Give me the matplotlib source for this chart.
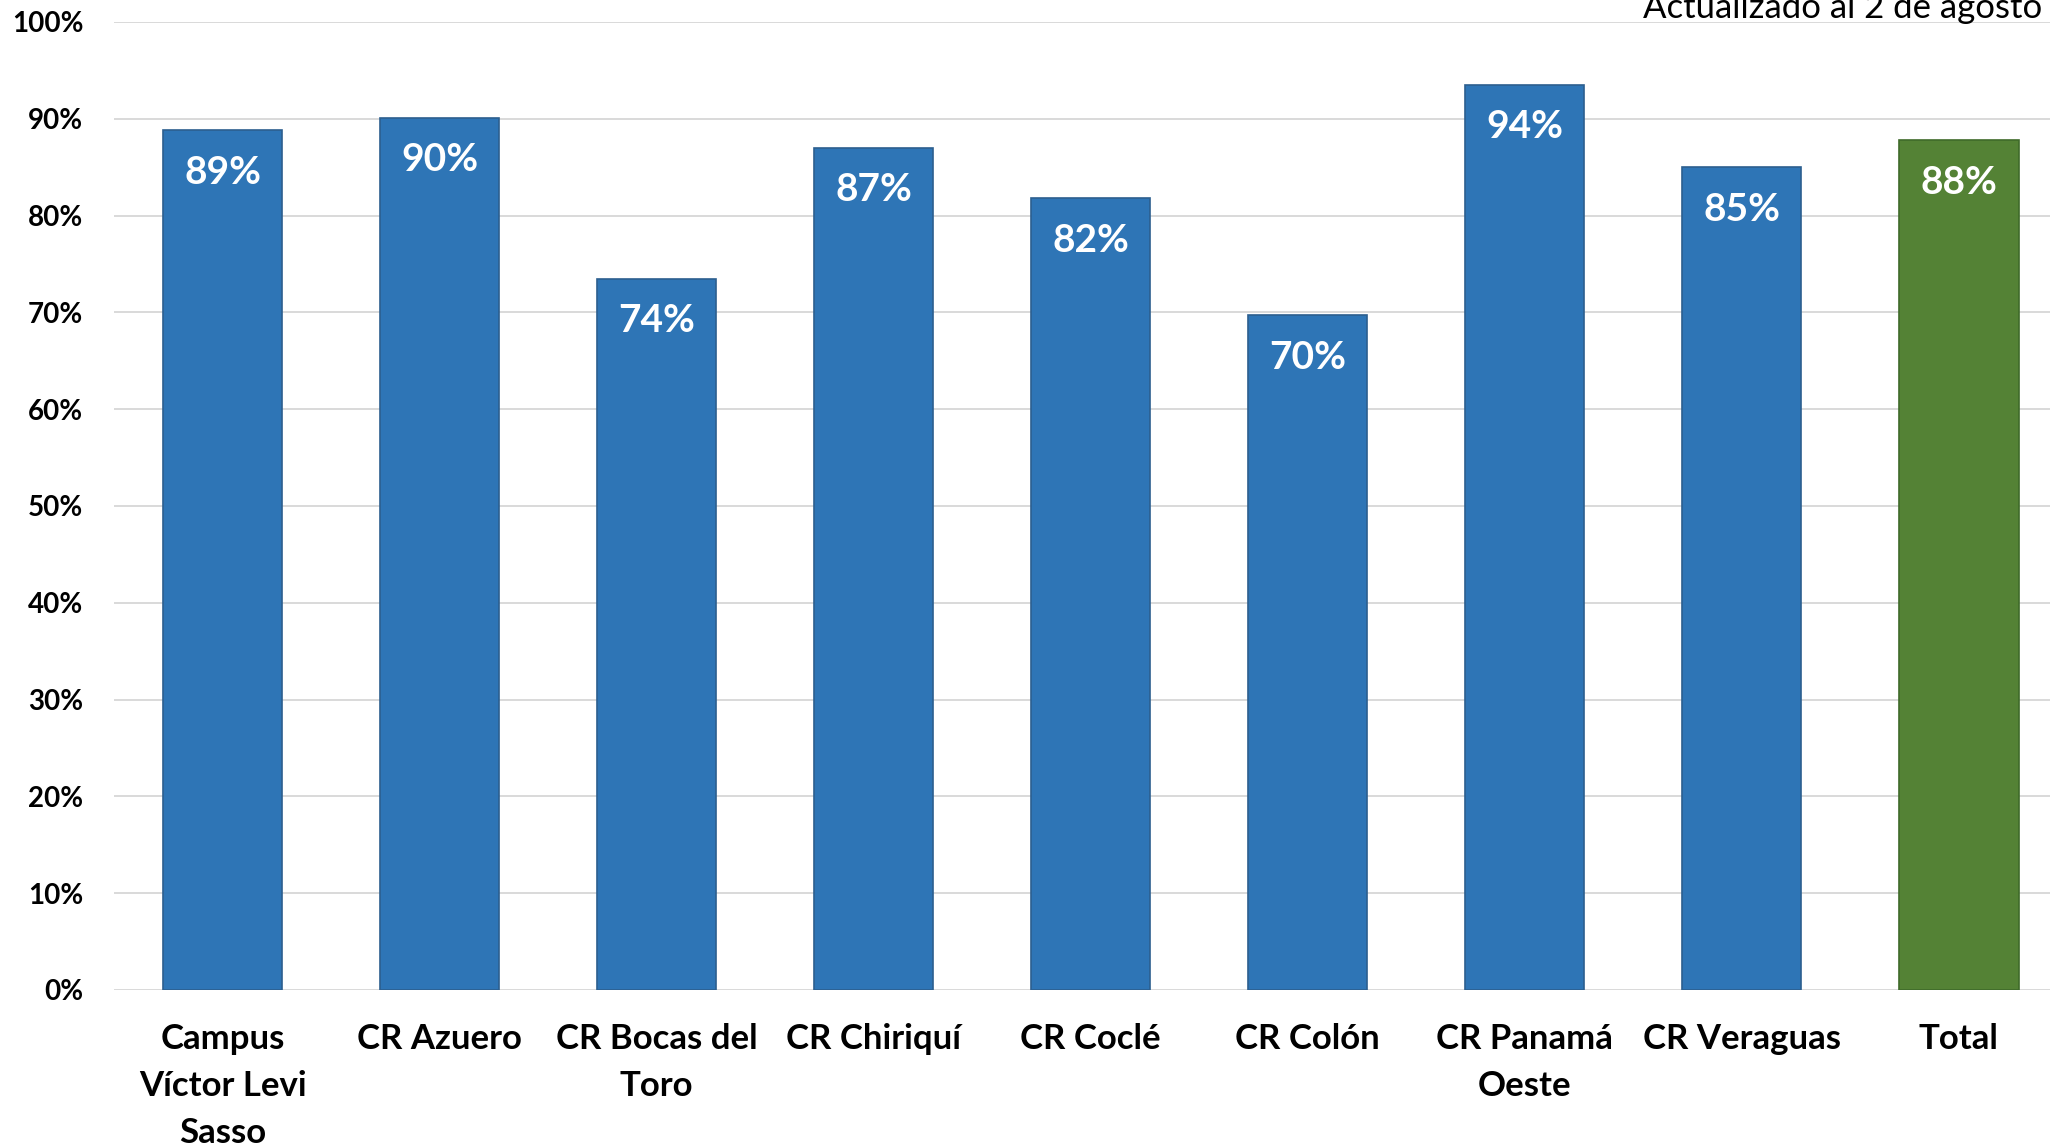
import matplotlib.pyplot as plt
from matplotlib.ticker import FuncFormatter

# datos
categorias = ["Campus\nVíctor Levi\nSasso", "CR Azuero", "CR Bocas del\nToro", "CR Chiriquí",
              "CR Coclé", "CR Colón", "CR Panamá\nOeste", "CR Veraguas", "Total"]
valores = [88.8, 90.1, 73.5, 87.0, 81.8, 69.7, 93.5, 85.0, 87.8]
etiquetas = ["89%", "90%", "74%", "87%", "82%", "70%", "94%", "85%", "88%"]
titulo = "Actualizado al 2 de agosto"

azul = "#2E75B6"
verde = "#548235"
colores = [azul] * (len(valores) - 1) + [verde]
bordes = ["#2C5F8F"] * (len(valores) - 1) + ["#3F6B2A"]

plt.rcParams['font.family'] = ['Lato', 'DejaVu Sans']

fig = plt.figure(figsize=(20.5, 11.46), dpi=100)
ax = fig.add_axes([114 / 2050, 1 - 990 / 1146, 1 - 114 / 2050, (990 - 22) / 1146])

x = range(len(valores))
bars = ax.bar(x, valores, width=0.55, color=colores, edgecolor=bordes, linewidth=1.2, zorder=3)

# etiquetas dentro de las barras
for b, txt in zip(bars, etiquetas):
    ax.annotate(txt, (b.get_x() + b.get_width() / 2, b.get_height()),
                xytext=(0, -38.5), textcoords='offset points',
                ha='center', va='baseline', color='white',
                fontsize=28, fontweight='bold', zorder=4)

ax.set_xlim(-0.5, 8.42)
ax.set_ylim(0, 100)
ax.set_yticks(range(0, 101, 10))
ax.yaxis.set_major_formatter(FuncFormatter(lambda v, p: f"{int(v)}%"))
ax.set_xticks(list(x))
ax.set_xticklabels(categorias, fontsize=25, fontweight='bold', linespacing=1.58)
for lbl in ax.get_yticklabels():
    lbl.set_fontsize(20)
    lbl.set_fontweight('bold')

ax.tick_params(axis='y', length=0, pad=22)
ax.tick_params(axis='x', length=0, pad=24)
ax.grid(axis='y', color='#D9D9D9', linewidth=1.4, zorder=0)
for s in ax.spines.values():
    s.set_visible(False)

fig.text(2042 / 2050, 1 - 18 / 1146, titulo, ha='right', va='baseline', fontsize=25, color='black')

fig.savefig("out.png", dpi=100)
